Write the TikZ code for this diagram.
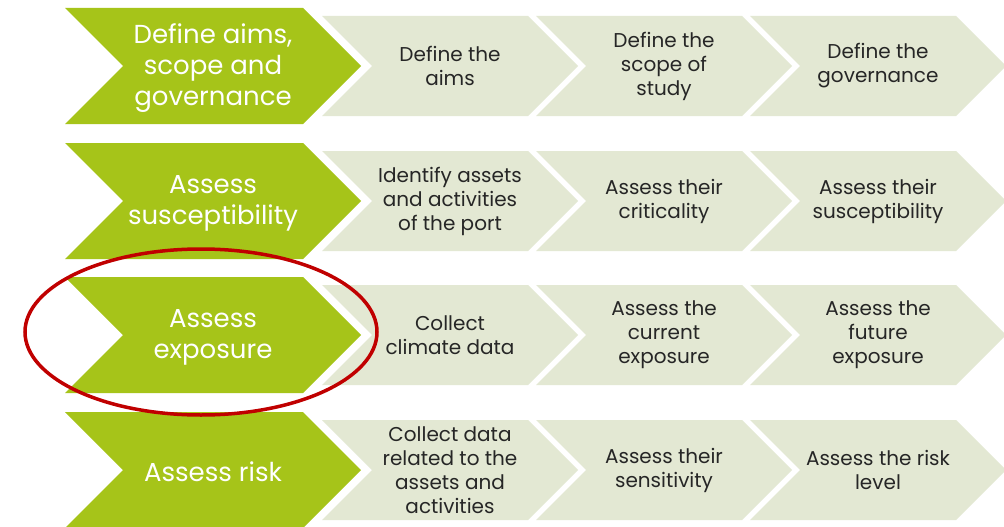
\documentclass[tikz,border=0pt]{standalone}
\usepackage{fontspec}
\setmainfont{Poppins}
\definecolor{stepgreen}{HTML}{A6C419}
\definecolor{steplight}{HTML}{E3E8D3}
\definecolor{ringred}{HTML}{C00000}
\definecolor{ink}{HTML}{262626}

% chevron: left x, centre y, flat length, half height, fill colour
\newcommand\chevronband[5]{%
  \fill[#5] (#1,{#2-#4}) -- ({#1+#3},{#2-#4}) -- ({#1+#3+#4},#2)
    -- ({#1+#3},{#2+#4}) -- (#1,{#2+#4}) -- ({#1+#4},#2) -- cycle;}

\begin{document}
\begin{tikzpicture}[x=1pt,y=-1pt,
  phase/.style={align=center,text=white,yshift=-2pt,font=\fontsize{26}{31}\selectfont},
  task/.style={align=center,text=ink,font=\fontsize{20}{24}\selectfont}]
\useasboundingbox (0,0) rectangle (1004,527);
\fill[white] (0,0) rectangle (1004,527);

% rows of chevrons
\foreach \yc in {66,201,335,470}{
  \foreach \xs in {322,536,750}{\chevronband{\xs}{\yc}{206}{50}{steplight}}
  \chevronband{65}{\yc}{238}{58}{stepgreen}
}

% row 1
\node[phase] (p1) at (213,66) {Define aims,\\scope and\\governance};
\node[task] (t11) at (450,66) {Define the\\aims};
\node[task] (t12) at (664,66) {Define the\\scope of\\study};
\node[task] (t13) at (878,66) {Define the\\governance};

% row 2
\node[phase] (p2) at (213,201) {Assess\\susceptibility};
\node[task] (t21) at (450,201) {Identify assets\\and activities\\of the port};
\node[task] (t22) at (664,201) {Assess their\\criticality};
\node[task] (t23) at (878,201) {Assess their\\susceptibility};

% row 3
\node[phase] (p3) at (213,335) {Assess\\exposure};
\node[task] (t31) at (450,335) {Collect\\climate data};
\node[task] (t32) at (664,335) {Assess the\\current\\exposure};
\node[task] (t33) at (878,335) {Assess the\\future\\exposure};

% row 4
\node[phase] (p4) at (213,470) {Assess risk};
\node[task] (t41) at (450,470) {Collect data\\related to the\\assets and\\activities};
\node[task] (t42) at (664,470) {Assess their\\sensitivity};
\node[task] (t43) at (878,470) {Assess the risk\\level};

% highlight ring
\draw[ringred,line width=3.5] (201,332) ellipse [x radius=176,y radius=83];
\end{tikzpicture}
\end{document}
